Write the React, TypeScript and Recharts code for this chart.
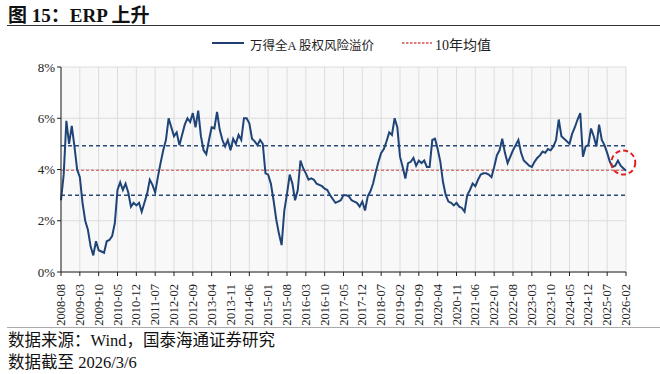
import {
  LineChart,
  Line,
  XAxis,
  YAxis,
  CartesianGrid,
  ReferenceLine,
  ReferenceDot,
} from 'recharts'

// 万得全A 股权风险溢价 (%), monthly from 2008-08
const erp = [
  2.8, 3.8, 5.9, 5.0, 5.7, 4.9, 4.0, 3.7, 2.7, 2.0,
  1.65, 1.0, 0.65, 1.2, 0.85, 0.8, 0.75, 1.2, 1.25, 1.4,
  1.9, 3.2, 3.5, 3.2, 3.45, 3.1, 2.55, 2.7, 2.6, 2.7,
  2.35, 2.7, 3.05, 3.6, 3.4, 3.1, 3.7, 4.25, 4.75, 5.15,
  6.0, 5.65, 5.3, 5.45, 4.95, 5.35, 5.75, 6.0, 5.85, 6.2,
  5.65, 6.3, 5.3, 4.75, 4.6, 5.15, 5.65, 5.6, 6.25, 5.55,
  5.15, 4.9, 5.15, 4.75, 5.2, 5.0, 5.35, 5.15, 6.0, 6.0,
  5.8, 5.2, 5.1, 4.95, 5.15, 5.0, 3.85, 3.8, 3.45, 2.8,
  2.05, 1.5, 1.05, 2.4, 3.05, 3.8, 3.45, 2.8, 3.2, 4.35,
  4.05, 3.85, 3.6, 3.65, 3.6, 3.45, 3.4, 3.35, 3.25, 3.2,
  3.0, 2.85, 2.7, 2.75, 2.8, 3.0, 3.0, 2.95, 2.8, 2.75,
  2.7, 2.55, 2.75, 2.4, 2.95, 3.15, 3.45, 3.9, 4.3, 4.65,
  4.8, 5.1, 5.45, 5.35, 6.0, 5.65, 4.5, 4.1, 3.65, 4.25,
  4.3, 4.45, 4.15, 4.35, 4.25, 4.35, 4.1, 4.1, 5.15, 5.2,
  4.8, 4.3, 3.5, 3.0, 2.75, 2.7, 2.6, 2.7, 2.55, 2.5,
  2.35, 3.0, 3.2, 3.45, 3.35, 3.6, 3.8, 3.85, 3.85, 3.8,
  3.7, 4.1, 4.55, 4.75, 5.2, 4.65, 4.25, 4.5, 4.75, 4.95,
  5.15, 4.65, 4.35, 4.25, 4.15, 4.1, 4.3, 4.45, 4.55, 4.7,
  4.65, 4.8, 4.75, 4.9, 5.15, 5.95, 5.3, 5.2, 5.1, 5.0,
  5.4, 5.65, 5.95, 6.2, 4.5, 4.9, 4.95, 5.6, 5.3, 4.9,
  5.75, 5.15, 4.95, 4.65, 4.3, 4.1, 4.15, 4.35, 4.15, 4.05,
  3.95,
]

const startYear = 2008
const startMonth = 8
const months = erp.map((_, i) => {
  const t = startMonth - 1 + i
  const y = startYear + Math.floor(t / 12)
  const m = (t % 12) + 1
  return `${y}-${String(m).padStart(2, '0')}`
})

const yTicks = [0, 2, 4, 6, 8]
const mean10y = 3.97
const upperBand = 4.93
const lowerBand = 3.0
const markerMonth = '2026-01'
const markerValue = 4.27

const data = months.map((m, i) => ({ date: m, erp: erp[i] }))

const serif = "'Liberation Serif', 'Times New Roman', 'Noto Sans CJK SC', serif"
const cjk = "'Liberation Serif', 'Noto Sans CJK SC', serif"

const RotatedTick = ({ x, y, payload }: any) => (
  <text
    x={x}
    y={y}
    transform={`rotate(-90, ${x}, ${y})`}
    dx={-6}
    dy={4}
    textAnchor='end'
    fontSize={12.5}
    fontFamily={serif}
    fill='#222'
  >
    {payload.value}
  </text>
)

export default function App() {
  return (
    <div
      style={{
        position: 'fixed',
        left: 0,
        top: 0,
        width: 660,
        height: 374,
        background: '#fff',
        overflow: 'hidden',
      }}
    >
      <div
        style={{
          position: 'absolute',
          left: 8,
          top: 0,
          fontSize: 19,
          fontWeight: 'bold',
          fontFamily: cjk,
          color: '#111',
        }}
      >
        图 15：ERP 上升
      </div>
      <div
        style={{
          position: 'absolute',
          left: 7,
          right: 0,
          top: 25,
          borderTop: '1.5px solid #333',
        }}
      />

      {/* legend */}
      <svg
        width={240}
        height={10}
        style={{ position: 'absolute', left: 210, top: 38 }}
      >
        <line x1={2} y1={5} x2={34} y2={5} stroke='#1f3f73' strokeWidth={2} />
        <line
          x1={192}
          y1={5}
          x2={222}
          y2={5}
          stroke='#d0504d'
          strokeWidth={1.5}
          strokeDasharray='2.5 1.5'
        />
      </svg>
      <div
        style={{
          position: 'absolute',
          left: 250,
          top: 35,
          fontSize: 12.5,
          fontFamily: cjk,
          color: '#222',
        }}
      >
        万得全A 股权风险溢价
      </div>
      <div
        style={{
          position: 'absolute',
          left: 435,
          top: 34,
          fontSize: 14,
          fontFamily: cjk,
          color: '#222',
        }}
      >
        10年均值
      </div>

      <div style={{ position: 'absolute', left: 0, top: 0 }}>
        <LineChart
          width={660}
          height={330}
          data={data}
          margin={{ top: 67, right: 34, left: 11, bottom: 8 }}
        >
          <CartesianGrid stroke='#dcdcdc' fill='#f8f8f8' />
          <XAxis
            dataKey='date'
            interval={6}
            height={50}
            tick={<RotatedTick />}
            tickSize={4}
            axisLine={{ stroke: '#222' }}
            tickLine={{ stroke: '#222' }}
          />
          <XAxis
            xAxisId='top'
            dataKey='date'
            orientation='top'
            height={0}
            tick={false}
            tickLine={false}
            axisLine={{ stroke: '#222' }}
          />
          <YAxis
            domain={[0, 8]}
            ticks={yTicks}
            width={50}
            tickFormatter={(v) => `${v}%`}
            tick={{ fontSize: 13, fontFamily: serif, fill: '#222' }}
            tickSize={4}
            axisLine={{ stroke: '#222' }}
            tickLine={{ stroke: '#222' }}
          />
          <YAxis
            yAxisId='right'
            orientation='right'
            domain={[0, 8]}
            width={0}
            tick={false}
            tickLine={false}
            axisLine={{ stroke: '#222' }}
          />
          <ReferenceLine y={upperBand} stroke='#2a4a7c' strokeWidth={1.5} strokeDasharray='4 3' />
          <ReferenceLine y={lowerBand} stroke='#2a4a7c' strokeWidth={1.5} strokeDasharray='4 3' />
          <ReferenceLine y={mean10y} stroke='#c94a48' strokeWidth={1.2} strokeDasharray='3 2' />
          <Line
            type='linear'
            dataKey='erp'
            stroke='#1f4478'
            strokeWidth={2}
            dot={false}
            isAnimationActive={false}
          />
          <ReferenceDot
            x={markerMonth}
            y={markerValue}
            r={12}
            fill='none'
            stroke='#e02020'
            strokeWidth={2}
            strokeDasharray='5 3'
          />
        </LineChart>
      </div>

      <div
        style={{
          position: 'absolute',
          left: 7,
          right: 0,
          top: 327,
          borderTop: '1px solid #aaa',
        }}
      />
      <div
        style={{
          position: 'absolute',
          left: 8,
          top: 330,
          fontSize: 16.5,
          fontFamily: cjk,
          color: '#111',
          lineHeight: '22px',
        }}
      >
        <div>数据来源：Wind，国泰海通证券研究</div>
        <div>数据截至 2026/3/6</div>
      </div>
    </div>
  )
}
